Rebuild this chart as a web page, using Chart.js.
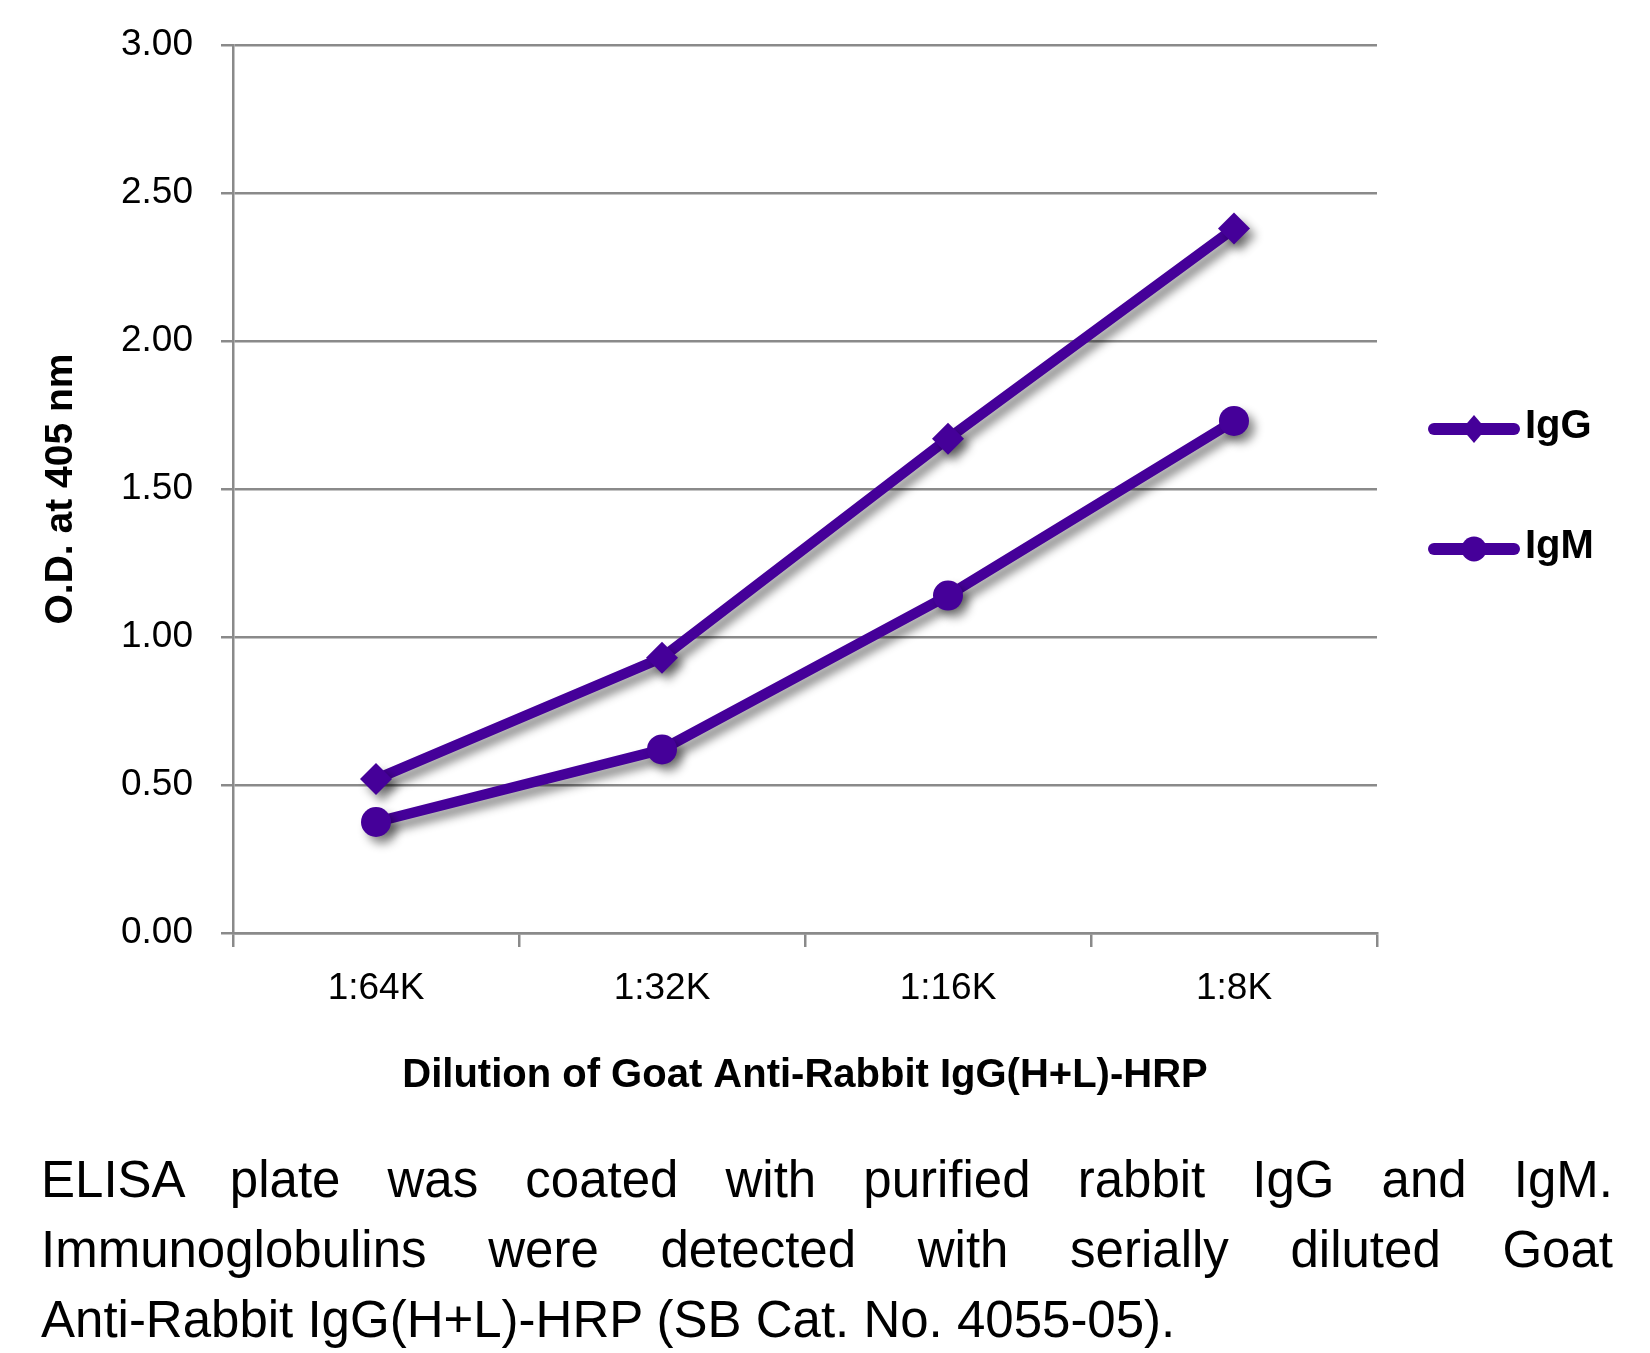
<!DOCTYPE html>
<html>
<head>
<meta charset="utf-8">
<script src="https://cdn.jsdelivr.net/npm/chart.js@4/dist/chart.umd.min.js"></script>
<style>
  body { margin: 0; background: #fff; width: 1650px; height: 1353px; position: relative; overflow: hidden; }
  #chart { position: absolute; left: 0; top: 0; }
  #caption { position: absolute; left: 41px; top: 1145px; width: 1572px;
    font-family: 'Liberation Sans', Arial, sans-serif; font-size: 51px; line-height: 70px; color: #000; }
  #caption div { text-align: justify; text-align-last: justify; white-space: nowrap; }
  #caption div.last { text-align-last: left; }
</style>
</head>
<body>
<canvas id="chart" width="1650" height="1120"></canvas>
<div id="caption">
  <div>ELISA plate was coated with purified rabbit IgG and IgM.</div>
  <div>Immunoglobulins were detected with serially diluted Goat</div>
  <div class="last">Anti-Rabbit IgG(H+L)-HRP (SB Cat. No. 4055-05).</div>
</div>
<script>
const dilutions = ['1:64K', '1:32K', '1:16K', '1:8K'];
const iggOD = [0.52, 0.93, 1.67, 2.38];
const igmOD = [0.375, 0.62, 1.14, 1.73];
const seriesNames = ['IgG', 'IgM'];

const purple = '#450099';
const gridGray = '#8a8a8a';

Chart.defaults.font.family = "'Liberation Sans', Arial, sans-serif";
Chart.defaults.color = '#000';

// soft drop shadow under the lines and markers, like the Excel original
const shadowPlugin = {
    id: 'shadow',
    beforeDatasetsDraw(chart) {
        const c = chart.ctx;
        c.save();
        c.shadowColor = 'rgba(0,0,0,0.45)';
        c.shadowBlur = 10;
        c.shadowOffsetX = 6;
        c.shadowOffsetY = 7;
    },
    afterDatasetsDraw(chart) {
        chart.ctx.restore();
    }
};

// legend on the right: line with marker in the middle, bold label
const sideLegend = {
    id: 'sideLegend',
    afterDraw(chart) {
        const { ctx, chartArea } = chart;
        const mid = (chartArea.top + chartArea.bottom) / 2;
        chart.data.datasets.forEach((ds, i) => {
            const y = mid - 60 + i * 120;
            const x0 = chartArea.right + 57, x1 = chartArea.right + 137;
            const xc = (x0 + x1) / 2;
            ctx.save();
            ctx.strokeStyle = ds.borderColor;
            ctx.fillStyle = ds.borderColor;
            ctx.lineWidth = 12;
            ctx.lineCap = 'round';
            ctx.beginPath();
            ctx.moveTo(x0, y);
            ctx.lineTo(x1, y);
            ctx.stroke();
            ctx.beginPath();
            if (ds.pointStyle === 'rectRot') {
                ctx.moveTo(xc - 12, y);
                ctx.lineTo(xc, y - 14);
                ctx.lineTo(xc + 12, y);
                ctx.lineTo(xc, y + 14);
                ctx.closePath();
            } else {
                ctx.arc(xc, y, 12.5, 0, Math.PI * 2);
            }
            ctx.fill();
            ctx.fillStyle = '#000';
            ctx.font = "bold 40px 'Liberation Sans', Arial, sans-serif";
            ctx.textBaseline = 'middle';
            ctx.textAlign = 'left';
            ctx.fillText(ds.label, x1 + 11, y - 2);
            ctx.restore();
        });
    }
};

const ctx = document.getElementById('chart').getContext('2d');
new Chart(ctx, {
    type: 'line',
    data: {
        labels: dilutions,
        datasets: [{
            label: seriesNames[0],
            data: iggOD,
            borderColor: purple,
            backgroundColor: purple,
            borderWidth: 10.5,
            pointStyle: 'rectRot',
            pointRadius: 16,
            pointBorderWidth: 0,
            tension: 0
        }, {
            label: seriesNames[1],
            data: igmOD,
            borderColor: purple,
            backgroundColor: purple,
            borderWidth: 10.5,
            pointStyle: 'circle',
            pointRadius: 15,
            pointBorderWidth: 0,
            tension: 0
        }]
    },
    options: {
        responsive: false,
        animation: false,
        layout: { padding: { left: 0, right: 273, top: 45, bottom: 0 } },
        plugins: {
            legend: { display: false },
            tooltip: { enabled: false }
        },
        scales: {
            x: {
                offset: true,
                afterFit: (scale) => { scale.height = 187; },
                grid: {
                    offset: true,
                    drawOnChartArea: false,
                    color: gridGray,
                    lineWidth: 2.5,
                    tickLength: 14
                },
                border: { color: gridGray, width: 2.5 },
                ticks: {
                    font: { size: 37 },
                    padding: 20,
                    maxRotation: 0
                },
                title: {
                    display: true,
                    text: 'Dilution of Goat Anti-Rabbit IgG(H+L)-HRP',
                    font: { size: 40, weight: 'bold' },
                    padding: { top: 0, bottom: 20 }
                }
            },
            y: {
                min: 0,
                max: 3,
                afterFit: (scale) => {
                    scale.width = 233;
                    // keep the plot top pinned by layout padding, not label padding
                    scale.paddingTop = 20;
                    scale.paddingBottom = 20;
                },
                grid: {
                    color: gridGray,
                    lineWidth: 2.5,
                    tickLength: 12
                },
                border: { color: gridGray, width: 2.5 },
                ticks: {
                    stepSize: 0.5,
                    font: { size: 37 },
                    padding: 28,
                    callback: (v) => Number(v).toFixed(2)
                },
                title: {
                    display: true,
                    text: 'O.D. at 405 nm',
                    font: { size: 39, weight: 'bold' },
                    padding: { top: 38, bottom: 0 }
                }
            }
        }
    },
    plugins: [shadowPlugin, sideLegend]
});
</script>
</body>
</html>
